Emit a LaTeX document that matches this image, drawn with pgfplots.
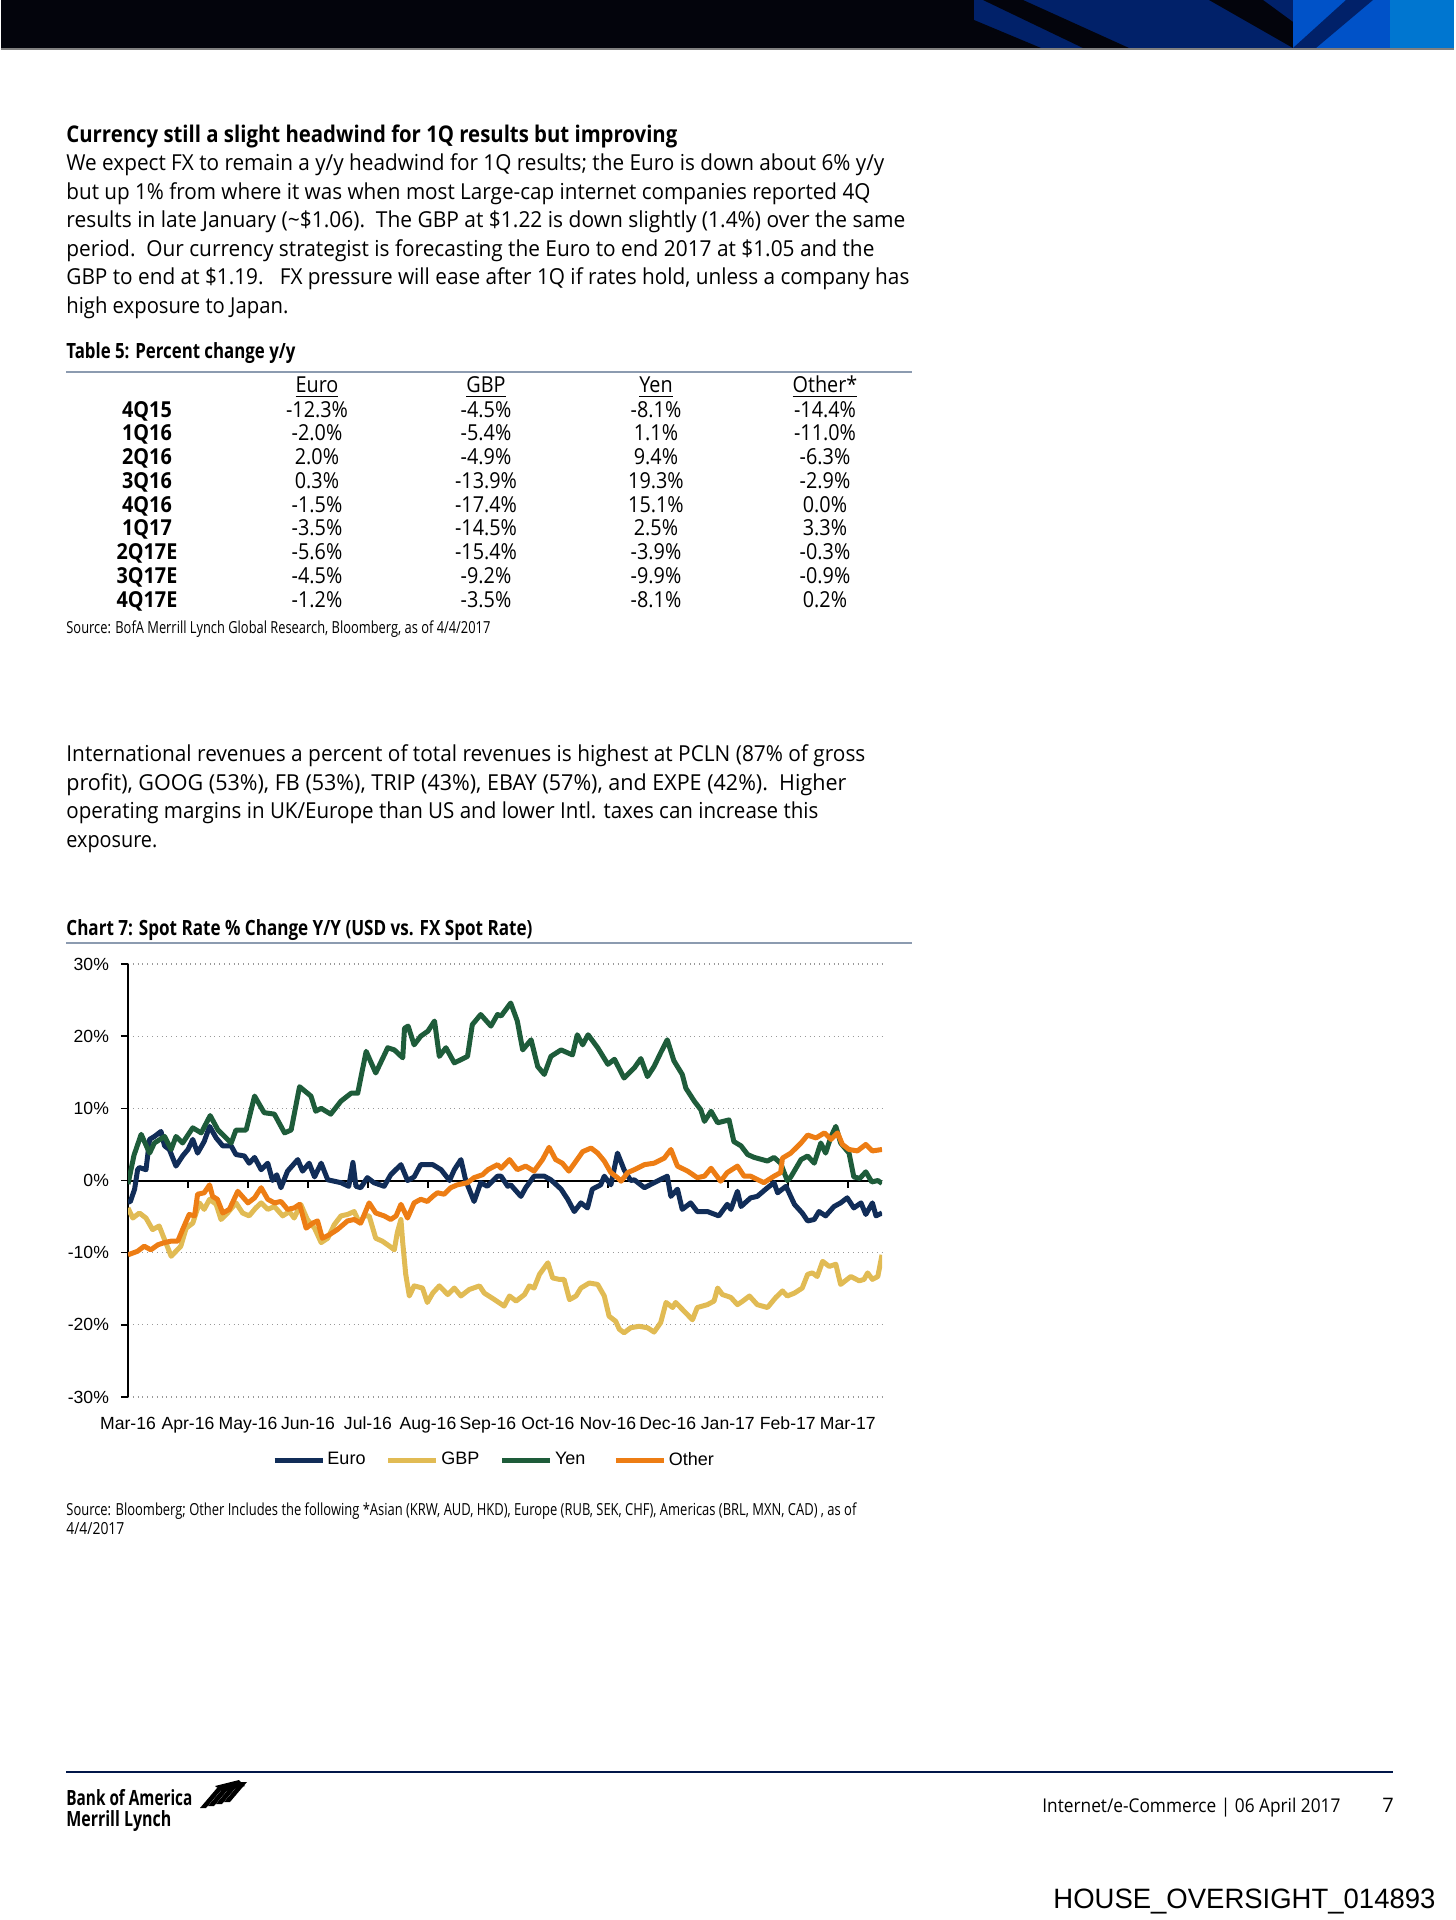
\documentclass[border=0pt]{standalone}
\usepackage{pgfplots}
\pgfplotsset{compat=1.18}
\usepackage{graphicx}
\usepackage{fontspec}
\setmainfont{Open Sans}
\newfontfamily\tblfam{Open Sans}[FakeStretch=0.9]
\newfontfamily\arial{Liberation Sans}

\definecolor{euro}{RGB}{17,45,88}
\definecolor{gbp}{RGB}{225,187,84}
\definecolor{yen}{RGB}{30,92,58}
\definecolor{other}{RGB}{237,125,20}
\definecolor{barblack}{RGB}{3,4,12}
\definecolor{bnavy}{RGB}{1,33,105}
\definecolor{bblue}{RGB}{0,82,200}
\definecolor{blight}{RGB}{0,118,208}
\definecolor{rulegray}{RGB}{140,155,176}

% squeeze a line of text to a given width
\newlength\fitw
\newcommand\fit[2]{\settowidth\fitw{#2}\pgfmathsetmacro\fitf{(#1)/\fitw}\scalebox{\fitf}[1]{#2}}

\newcommand\bodyfont{\fontsize{11}{13}\selectfont}
\newcommand\headfont{\fontsize{11.5}{13}\selectfont\bfseries}
\newcommand\captfont{\fontsize{10.5}{12}\selectfont\bfseries}
\newcommand\tblfont{\tblfam\fontsize{11}{13}\selectfont}
\newcommand\srcfont{\fontsize{8.3}{10}\selectfont}
\newcommand\chartfont{\arial\fontsize{8.8}{11}\selectfont}

\begin{document}
\begin{tikzpicture}
\begin{scope}[x=0.5pt,y=-0.5pt, txt/.style={anchor=base west,inner sep=0pt}]
\path (0,0) rectangle (1453,1920);
% header bar
\fill[barblack] (0,0) rectangle (1453,48);
\fill[bnavy] (973,0) rectangle (1292,48);
\fill[barblack] (982,0) -- (1022,0) -- (1128,48) -- (1082,48) -- cycle;
\fill[barblack] (973,20) -- (973,48) -- (1040,48) -- cycle;
\fill[barblack] (1208,0) -- (1262,0) -- (1292,22) -- (1292,48) -- cycle;
\fill[bblue] (1292,0) rectangle (1389,48);
\fill[bnavy] (1345,0) -- (1372,0) -- (1315,48) -- (1292,48) -- cycle;
\fill[blight] (1389,0) rectangle (1453,48);
\draw[gray, line width=1pt] (0,49) -- (1453,49);

% section text
\node[txt] at (65,143) {\headfont\fit{305.5pt}{Currency still a slight headwind for 1Q results but improving}};
\node[txt] at (65,171) {\bodyfont\fit{409pt}{We expect FX to remain a y/y headwind for 1Q results; the Euro is down about 6\% y/y}};
\node[txt] at (65,200) {\bodyfont\fit{402pt}{but up 1\% from where it was when most Large-cap internet companies reported 4Q}};
\node[txt] at (65,228) {\bodyfont\fit{419.5pt}{results in late January (\textasciitilde\$1.06).\ \ The GBP at \$1.22 is down slightly (1.4\%) over the same}};
\node[txt] at (65,257) {\bodyfont\fit{404pt}{period.\ \ Our currency strategist is forecasting the Euro to end 2017 at \$1.05 and the}};
\node[txt] at (65,285) {\bodyfont\fit{421.5pt}{GBP to end at \$1.19.\ \ \ FX pressure will ease after 1Q if rates hold, unless a company has}};
\node[txt] at (65,314) {\bodyfont\fit{111pt}{high exposure to Japan.}};

% table 5
\node[txt] at (65,358) {\captfont\fit{114.5pt}{Table 5: Percent change y/y}};
\draw[rulegray, line width=1pt] (65,372) -- (911,372);
\begin{scope}[tbl/.style={anchor=base,inner sep=0pt,font=\tblfont}]
\node[tbl] at (316,393) {\underline{Euro}};
\node[tbl] at (485,393) {\underline{GBP}};
\node[tbl] at (655,393) {\underline{Yen}};
\node[tbl] at (824,393) {\underline{Other*}};
\foreach \lab/\a/\b/\c/\d [count=\i from 0] in {4Q15/-12.3/-4.5/-8.1/-14.4, 1Q16/-2.0/-5.4/1.1/-11.0, 2Q16/2.0/-4.9/9.4/-6.3, 3Q16/0.3/-13.9/19.3/-2.9, 4Q16/-1.5/-17.4/15.1/0.0, 1Q17/-3.5/-14.5/2.5/3.3, 2Q17E/-5.6/-15.4/-3.9/-0.3, 3Q17E/-4.5/-9.2/-9.9/-0.9, 4Q17E/-1.2/-3.5/-8.1/0.2}
{
  \pgfmathsetmacro\yy{417+23.75*\i}
  \node[tbl] at (146,\yy) {\bfseries\lab};
  \node[tbl] at (316,\yy) {\a\%};
  \node[tbl] at (485,\yy) {\b\%};
  \node[tbl] at (655,\yy) {\c\%};
  \node[tbl] at (824,\yy) {\d\%};
}
\end{scope}
\node[txt] at (65,633) {\srcfont\fit{212pt}{Source: BofA Merrill Lynch Global Research, Bloomberg, as of 4/4/2017}};

% second paragraph
\node[txt] at (65,761) {\bodyfont\fit{399.5pt}{International revenues a percent of total revenues is highest at PCLN (87\% of gross}};
\node[txt] at (65,790) {\bodyfont\fit{390pt}{profit), GOOG (53\%), FB (53\%), TRIP (43\%), EBAY (57\%), and EXPE (42\%).\ \ Higher}};
\node[txt] at (65,818) {\bodyfont\fit{376pt}{operating margins in UK/Europe than US and lower Intl. taxes can increase this}};
\node[txt] at (65,847) {\bodyfont\fit{45.5pt}{exposure.}};

% chart caption and source
\node[txt] at (65,935) {\captfont\fit{233pt}{Chart 7: Spot Rate \% Change Y/Y (USD vs. FX Spot Rate)}};
\draw[rulegray, line width=1pt] (65,943) -- (911,943);
\node[txt] at (65,1515) {\srcfont\fit{395pt}{Source: Bloomberg; Other Includes the following *Asian (KRW, AUD, HKD), Europe (RUB, SEK, CHF), Americas (BRL, MXN, CAD) , as of}};
\node[txt] at (65,1534) {\srcfont\fit{29pt}{4/4/2017}};

% footer
\draw[bnavy!70!black, line width=1.2pt] (65,1772) -- (1392,1772);
\node[txt] at (65,1805) {\fontsize{10.5}{11}\selectfont\bfseries\fit{63pt}{Bank of America}};
\node[txt] at (65,1826) {\fontsize{10.5}{11}\selectfont\bfseries\fit{52.5pt}{Merrill Lynch}};
\foreach \k in {0,1,2,3}
  \fill[black] (199+8*\k,1808-2*\k) -- (205+8*\k,1808-2*\k) -- (222+8*\k,1788-2*\k) -- (216+8*\k,1788-2*\k) -- cycle;
\fill[black] (214,1786) -- (238,1780) -- (244,1786) -- (222,1792) -- cycle;
\node[txt] at (1041,1812) {\fontsize{9.5}{11}\selectfont\fit{149pt}{Internet/e-Commerce | 06 April 2017}};
\node[txt] at (1381,1812) {\fontsize{10}{11}\selectfont 7};
\node[txt] at (1052,1908) {\arial\fontsize{14}{16}\selectfont\fit{191pt}{HOUSE\_OVERSIGHT\_014893}};
\end{scope}

\begin{axis}[
  at={(63.5pt,-698.5pt)}, anchor=south west,
  scale only axis, width=377pt, height=216.5pt,
  xmin=0, xmax=12.57, ymin=-30, ymax=30,
  axis x line=middle, axis y line=left,
  axis line style={-, black, line width=1pt},
  hide obscured x ticks=false,
  tick align=outside, major tick length=3.5pt,
  tick style={black, line width=0.8pt},
  xtick={0,...,12},
  xticklabels={Mar-16,Apr-16,May-16,Jun-16,Jul-16,Aug-16,Sep-16,Oct-16,Nov-16,Dec-16,Jan-17,Feb-17,Mar-17},
  xticklabel style={yshift=-111pt, text height=6.6pt, text depth=1.8pt},
  ytick={-30,-20,...,30},
  yticklabels={-30\%,-20\%,-10\%,0\%,10\%,20\%,30\%},
  yticklabel style={xshift=-2.5pt},
  ymajorgrids, grid style={black!40, dotted, line width=0.6pt},
  ticklabel style={font=\chartfont},
  every axis plot/.append style={line width=2.5pt, line join=round},
  legend columns=4,
  legend style={at={(axis description cs:0.485,-0.1455)}, anchor=center, draw=none, fill=none,
    font=\arial\fontsize{9}{11}\selectfont,
    nodes={text width=22pt, inner xsep=1.2pt, align=left},
    /tikz/every even column/.append style={column sep=6pt}},
  legend image code/.code={\draw[#1] (0pt,0pt) -- (24pt,0pt);},
]
\addplot[euro] coordinates {
(0,-3.0) (0.04,-2.9) (0.11,-1.2) (0.16,1.5) (0.19,1.8) (0.3,1.5) (0.36,5.7) (0.44,6.1) (0.55,6.8) (0.61,4.8) (0.69,4.3) (0.8,2.0) (0.91,3.4) (1.0,4.3) (1.08,5.7) (1.16,3.8) (1.27,5.4) (1.36,7.5) (1.47,5.9) (1.58,4.8) (1.72,4.8) (1.8,3.6) (1.94,3.4) (2.02,2.4) (2.11,3.2) (2.22,1.5) (2.33,2.4) (2.41,0) (2.48,0.8) (2.55,-1.0) (2.66,1.3) (2.83,2.9) (2.91,1.3) (3.02,2.4) (3.11,0.5) (3.22,2.4) (3.33,0.1) (3.44,-0.1) (3.55,-0.3) (3.68,-0.8) (3.75,2.5) (3.8,-0.8) (3.88,-1.0) (3.99,0.4) (4.1,-0.3) (4.27,-0.8) (4.38,0.8) (4.55,2.2) (4.66,0) (4.77,0.5) (4.88,2.2) (5.08,2.2) (5.22,1.5) (5.36,0) (5.44,1.5) (5.55,2.9) (5.63,0) (5.77,-2.9) (5.88,-0.3) (5.99,-0.8) (6.16,0.6) (6.22,0.6) (6.33,-0.8) (6.38,-0.6) (6.55,-2.2) (6.63,-1.0) (6.77,0.6) (6.94,0.6) (7.05,0.1) (7.22,-1.2) (7.33,-2.6) (7.44,-4.3) (7.55,-3.1) (7.66,-3.8) (7.74,-1.2) (7.88,-0.6) (7.94,0.6) (8.05,-0.6) (8.16,3.8) (8.27,1.5) (8.38,0) (8.44,0.1) (8.61,-1.0) (8.77,-0.3) (8.99,0.6) (9.05,-2.2) (9.16,-1.2) (9.24,-4.0) (9.38,-3.1) (9.49,-4.3) (9.66,-4.3) (9.85,-4.9) (9.99,-3.3) (10.05,-4.0) (10.16,-1.5) (10.22,-3.6) (10.38,-2.4) (10.49,-2.2) (10.66,-1.0) (10.77,-0.3) (10.83,-1.7) (10.97,-0.8) (11.11,-3.3) (11.24,-4.5) (11.33,-5.6) (11.44,-5.4) (11.52,-4.3) (11.63,-4.9) (11.77,-3.6) (11.88,-3.1) (11.99,-2.4) (12.1,-3.8) (12.22,-3.1) (12.3,-4.7) (12.41,-3.1) (12.47,-4.9) (12.57,-4.5)
};
\addplot[gbp] coordinates {
(0,-3.8) (0.08,-5.2) (0.19,-4.5) (0.3,-5.2) (0.41,-6.8) (0.52,-6.3) (0.61,-8.2) (0.72,-10.5) (0.8,-9.8) (0.88,-9.1) (0.97,-6.6) (1.08,-5.9) (1.19,-3.1) (1.27,-4.0) (1.36,-2.6) (1.47,-3.3) (1.55,-5.4) (1.66,-4.5) (1.8,-3.1) (1.91,-4.5) (2.02,-4.9) (2.13,-3.8) (2.22,-3.1) (2.33,-4.0) (2.44,-3.6) (2.58,-4.9) (2.69,-4.3) (2.77,-5.2) (2.88,-3.3) (2.99,-5.4) (3.11,-6.6) (3.22,-8.6) (3.33,-8.0) (3.44,-6.1) (3.55,-4.9) (3.66,-4.7) (3.77,-4.3) (3.86,-5.9) (3.94,-4.9) (4.02,-4.9) (4.13,-8.0) (4.24,-8.4) (4.36,-9.1) (4.44,-9.6) (4.49,-7.2) (4.55,-5.4) (4.58,-8.6) (4.63,-13.0) (4.69,-16.0) (4.77,-14.6) (4.91,-14.9) (4.99,-16.9) (5.08,-15.6) (5.19,-14.6) (5.33,-15.8) (5.44,-14.9) (5.55,-16.0) (5.69,-15.1) (5.86,-14.6) (5.94,-15.6) (6.11,-16.5) (6.27,-17.4) (6.36,-16.0) (6.47,-16.7) (6.61,-15.8) (6.69,-14.6) (6.77,-14.9) (6.86,-13.0) (7.0,-11.4) (7.08,-13.5) (7.19,-13.7) (7.27,-13.7) (7.36,-16.5) (7.47,-16.0) (7.55,-14.9) (7.69,-14.2) (7.83,-14.4) (7.94,-16.0) (8.02,-18.8) (8.13,-19.5) (8.19,-20.6) (8.27,-21.1) (8.38,-20.4) (8.52,-20.2) (8.66,-20.4) (8.77,-21.0) (8.88,-19.7) (8.97,-16.9) (9.08,-17.6) (9.13,-16.9) (9.27,-18.1) (9.41,-19.3) (9.49,-17.6) (9.66,-17.2) (9.77,-16.7) (9.83,-14.9) (9.91,-15.8) (10.05,-16.2) (10.16,-17.2) (10.25,-16.7) (10.36,-16.0) (10.49,-17.2) (10.66,-17.6) (10.8,-16.2) (10.91,-15.3) (10.99,-16.0) (11.11,-15.6) (11.24,-14.9) (11.33,-13.0) (11.41,-12.8) (11.49,-13.3) (11.58,-11.2) (11.69,-11.9) (11.8,-11.6) (11.88,-14.4) (12.05,-13.3) (12.19,-13.9) (12.27,-13.7) (12.33,-12.8) (12.41,-13.7) (12.5,-13.3) (12.57,-10.3)
};
\addplot[yen] coordinates {
(0,-0.5) (0.1,3.5) (0.22,6.4) (0.36,3.8) (0.44,5.2) (0.61,6.1) (0.72,4.3) (0.8,6.1) (0.91,5.2) (1.08,7.3) (1.22,6.6) (1.37,9.0) (1.5,7.0) (1.72,5.2) (1.8,7.0) (1.97,7.0) (2.11,11.7) (2.27,9.4) (2.44,9.2) (2.61,6.6) (2.72,7.0) (2.86,13.0) (3.05,11.7) (3.13,9.6) (3.22,10.0) (3.38,9.2) (3.55,11.0) (3.72,12.1) (3.83,12.1) (3.97,17.9) (4.13,14.9) (4.33,18.4) (4.44,18.1) (4.58,17.0) (4.61,21.1) (4.67,21.4) (4.77,18.8) (4.88,20.0) (5.0,20.7) (5.11,22.1) (5.19,17.2) (5.3,18.4) (5.44,16.3) (5.66,17.2) (5.74,21.6) (5.88,23.0) (6.05,21.4) (6.16,23.0) (6.22,22.8) (6.38,24.6) (6.49,22.1) (6.58,18.1) (6.72,19.5) (6.83,15.8) (6.94,14.7) (7.05,17.2) (7.22,18.1) (7.41,17.4) (7.49,20.2) (7.58,18.8) (7.67,20.2) (7.83,18.4) (8.0,16.1) (8.11,16.8) (8.27,14.2) (8.44,15.6) (8.55,16.9) (8.66,14.4) (8.77,15.8) (8.88,17.7) (8.99,19.5) (9.1,16.6) (9.24,14.7) (9.3,12.8) (9.44,11.0) (9.55,9.8) (9.61,8.2) (9.72,9.6) (9.83,8.0) (10.02,8.4) (10.1,5.4) (10.22,4.8) (10.33,3.6) (10.44,3.2) (10.66,2.7) (10.77,3.2) (10.88,2.4) (10.99,0) (11.05,0.5) (11.22,2.9) (11.33,3.4) (11.44,2.4) (11.55,5.2) (11.63,3.8) (11.72,6.1) (11.8,7.5) (11.88,5.2) (12.02,3.8) (12.1,0.5) (12.2,0.3) (12.3,1.2) (12.4,-0.2) (12.5,0) (12.57,-0.4)
};
\addplot[other] coordinates {
(0,-10.3) (0.16,-9.8) (0.27,-9.1) (0.38,-9.6) (0.5,-8.9) (0.61,-8.6) (0.72,-8.4) (0.83,-8.4) (0.91,-6.8) (1.02,-4.7) (1.11,-4.9) (1.16,-1.9) (1.27,-1.7) (1.36,-0.6) (1.41,-2.2) (1.49,-2.6) (1.58,-4.5) (1.69,-4.0) (1.83,-1.5) (2.0,-3.1) (2.11,-2.4) (2.22,-1.0) (2.33,-2.6) (2.44,-3.1) (2.55,-2.9) (2.66,-4.0) (2.77,-3.8) (2.86,-3.3) (2.97,-6.6) (3.08,-5.9) (3.16,-5.6) (3.24,-8.0) (3.36,-7.5) (3.49,-6.8) (3.66,-5.6) (3.77,-5.4) (3.88,-5.9) (4.02,-3.1) (4.13,-4.5) (4.27,-4.9) (4.38,-5.4) (4.47,-4.9) (4.55,-3.3) (4.66,-5.2) (4.77,-3.1) (4.88,-2.6) (4.99,-2.9) (5.08,-2.2) (5.16,-1.7) (5.27,-1.9) (5.38,-1.0) (5.49,-0.6) (5.66,-0.3) (5.77,0.4) (5.91,0.8) (6.0,1.5) (6.16,2.2) (6.22,1.7) (6.36,2.9) (6.49,1.5) (6.63,2.0) (6.77,1.3) (6.91,2.9) (7.02,4.6) (7.13,2.9) (7.24,2.4) (7.35,1.3) (7.47,2.7) (7.58,4.0) (7.72,4.5) (7.83,3.8) (7.94,2.7) (8.05,1.1) (8.16,0.4) (8.22,-0.1) (8.33,1.1) (8.44,1.5) (8.61,2.2) (8.77,2.4) (8.94,3.1) (9.05,4.3) (9.16,2.0) (9.33,1.3) (9.49,0.4) (9.61,0.6) (9.72,1.7) (9.88,-0.1) (9.99,1.1) (10.16,2.0) (10.27,0.6) (10.38,0.6) (10.6,-0.3) (10.77,0.6) (10.88,1.1) (10.91,3.1) (11.05,3.8) (11.22,5.2) (11.33,6.3) (11.47,5.9) (11.61,6.6) (11.72,5.7) (11.83,6.6) (11.91,5.0) (12.02,4.3) (12.16,4.1) (12.3,5.0) (12.41,4.1) (12.57,4.3)
};
\legend{Euro,GBP,Yen,Other}
\end{axis}
\end{tikzpicture}
\end{document}
